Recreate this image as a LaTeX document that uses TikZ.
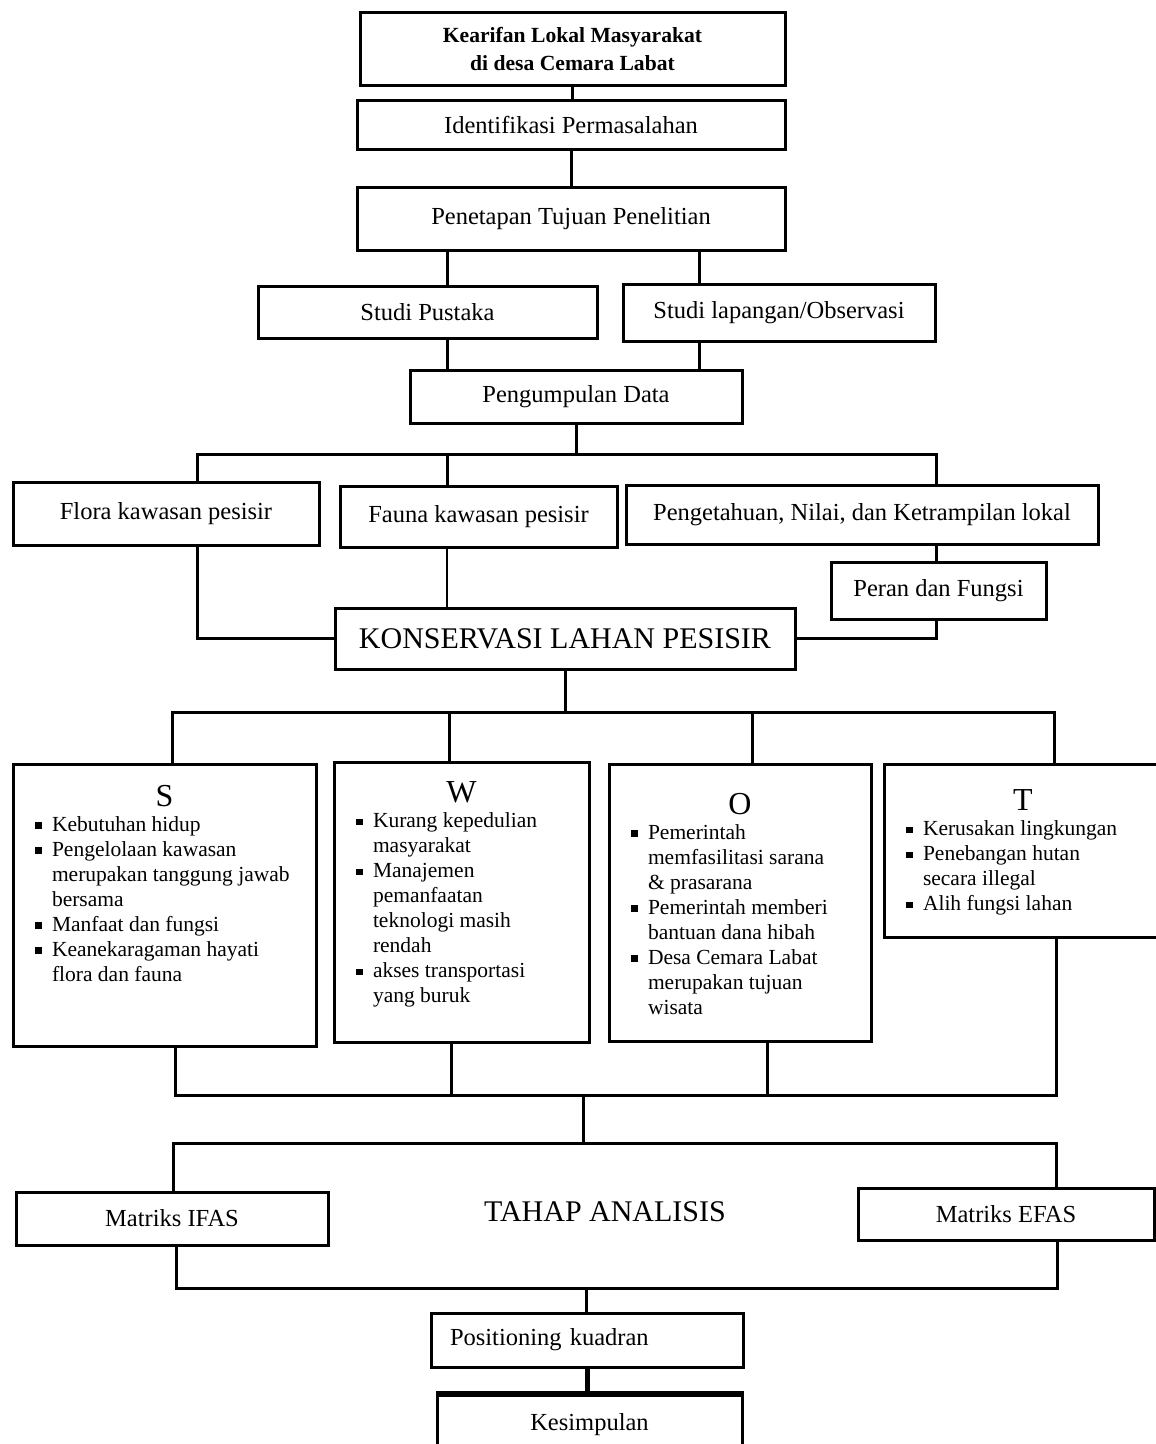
\documentclass[tikz,border=0pt]{standalone}
\usepackage{fontspec}
\setmainfont{Liberation Serif}
\newcommand{\swotitem}[1]{\par\hangindent=17pt\hangafter=1\noindent
  \makebox[17pt][l]{\rule[2.5pt]{6.5pt}{6.5pt}}{\let\\\newline#1}\par}
\newcommand{\swotbox}[5]{\parbox[c][#2pt][t]{\dimexpr#1pt-44pt\relax}{%
  \raggedright\fontsize{21.5}{25}\selectfont
  {\centering\fontsize{32}{32}\selectfont\rule{0pt}{#3pt}#4\par}#5}}
\begin{document}
\begin{tikzpicture}
[x=1pt,y=-1pt,
  boxdecorate/.style={shape=rectangle,draw,line width=3pt,inner sep=0pt,
    font=\fontsize{24.5}{28}\selectfont},%
  swotdecorate/.style={shape=rectangle,draw,line width=3pt,
    inner xsep=22pt,inner ysep=0pt},%
  linedecorate/.style={-,line width=3pt,line cap=rect}]
\useasboundingbox (0,0) rectangle (1156,1444);
%% boxes
\node[boxdecorate,minimum width=425pt,minimum height=73pt,align=center,
  font=\fontsize{21.6}{28}\selectfont\bfseries] (kearifan) at (572.5,48.5)
  {Kearifan Lokal Masyarakat\\di desa Cemara Labat};
\foreach \nodename/\x/\y/\w/\h/\nodetext in {
  identifikasi/571/124.5/428/49/{Identifikasi Permasalahan},
  penetapan/571/218.5/428/63/{Penetapan Tujuan Penelitian},
  studipustaka/427.5/312/339/52/{Studi Pustaka},
  studilapangan/779/312.5/312/57/{Studi lapangan/Observasi},
  pengumpulan/576/396.5/332/53/{Pengumpulan Data},
  flora/166/513.5/306/63/{Flora kawasan pesisir},
  fauna/478.5/516.5/277/61/{Fauna kawasan pesisir},
  pengetahuan/862/514.5/472/59/{Pengetahuan, Nilai, dan Ketrampilan lokal},
  peran/938.5/590.5/215/57/{Peran dan Fungsi},
  ifas/172/1218.5/312/53/{Matriks IFAS},
  efas/1006/1214/296/52/{Matriks EFAS},
  kesimpulan/589.5/1425/305/60/{Kesimpulan}} {
  \node[boxdecorate,minimum width=\w pt,minimum height=\h pt] (\nodename)
    at (\x,\y) {\nodetext};
}
\node[boxdecorate,minimum width=460pt,minimum height=61pt,
  font=\fontsize{30}{36}\selectfont] (konservasi) at (565,638.5)
  {KONSERVASI LAHAN PESISIR};
\node[font=\fontsize{30}{36}\selectfont] (tahap) at (605,1212) {TAHAP ANALISIS};
\node[boxdecorate,minimum width=312pt,minimum height=54pt,text width=274pt,
  align=left] (positioning) at (587,1340) {Positioning kuadran};
%% swot boxes
\node[swotdecorate] (s) at (164.5,905) {\swotbox{303}{282}{42}{S}{%
  \swotitem{Kebutuhan hidup}
  \swotitem{Pengelolaan kawasan\\merupakan tanggung jawab\\bersama}
  \swotitem{Manfaat dan fungsi}
  \swotitem{Keanekaragaman hayati\\flora dan fauna}}};
\node[swotdecorate] (w) at (461.5,902) {\swotbox{255}{280}{40.5}{W}{%
  \swotitem{Kurang kepedulian\\masyarakat}
  \swotitem{Manajemen\\pemanfaatan\\teknologi masih\\rendah}
  \swotitem{akses transportasi\\yang buruk}}};
\node[swotdecorate] (o) at (740,902.5) {\swotbox{262}{277}{50}{O}{%
  \swotitem{Pemerintah\\memfasilitasi sarana\\\& prasarana}
  \swotitem{Pemerintah memberi\\bantuan dana hibah}
  \swotitem{Desa Cemara Labat\\merupakan tujuan\\wisata}}};
\node[swotdecorate] (t) at (1023,850.5) {\swotbox{278}{173}{46.5}{T}{%
  \swotitem{Kerusakan lingkungan}
  \swotitem{Penebangan hutan\\secara illegal}
  \swotitem{Alih fungsi lahan}}};
%% junctions
\coordinate (xl) at (447,0);
\coordinate (xr) at (699,0);
\coordinate (a1) at (197,454);
\coordinate (a3) at (576,454);
\coordinate (a4) at (936,454);
\coordinate (bs) at (172,712);
\coordinate (bw) at (449,712);
\coordinate (bo) at (752,712);
\coordinate (bt) at (1054,712);
\coordinate (cs) at (175,1095);
\coordinate (cw) at (451,1095);
\coordinate (co) at (767,1095);
\coordinate (ct) at (1056,1095);
\coordinate (dl) at (173,1143);
\coordinate (dm) at (583,1143);
\coordinate (dr) at (1056,1143);
\coordinate (el) at (176,1288);
\coordinate (em) at (586,1288);
\coordinate (er) at (1057,1288);
%% connectors
\draw[linedecorate] (kearifan.south) -- (kearifan.south |- identifikasi.north);
\draw[linedecorate] (identifikasi.south) -- (identifikasi.south |- penetapan.north);
\foreach \railname/\studiname in {xl/studipustaka, xr/studilapangan} {
  \draw[linedecorate] (penetapan.south -| \railname) -- (\studiname.north -| \railname);
  \draw[linedecorate] (\studiname.south -| \railname) -- (pengumpulan.north -| \railname);
}
\draw[linedecorate] (pengumpulan.south) -- (a3);
\draw[linedecorate] (a1) -- (a4);
\draw[linedecorate] (a1) -- (flora.north -| a1);
\draw[linedecorate] (xl |- a1) -- (fauna.north -| xl);
\draw[linedecorate] (a4) -- (pengetahuan.north -| a4);
\draw[linedecorate] (pengetahuan.south -| a4) -- (peran.north -| a4);
\draw[linedecorate] (flora.south -| a1) |- (konservasi.west);
\draw[linedecorate,line width=1.5pt] (fauna.south -| xl) -- (konservasi.north -| xl);
\draw[linedecorate] (peran.south -| a4) |- (konservasi.east);
\draw[linedecorate] (konservasi.south) -- (konservasi.south |- bs);
\draw[linedecorate] (bs) -- (bt);
\draw[linedecorate] (cs) -- (ct);
\foreach \swotname in {s,w,o,t} {
  \draw[linedecorate] (b\swotname) -- (\swotname.north -| b\swotname);
  \draw[linedecorate] (\swotname.south -| c\swotname) -- (c\swotname);
}
\draw[linedecorate] (dm |- cs) -- (dm);
\draw[linedecorate] (dl) -- (dr);
\draw[linedecorate] (dl) -- (ifas.north -| dl);
\draw[linedecorate] (dr) -- (efas.north -| dr);
\draw[linedecorate] (ifas.south -| el) -- (el) -- (er) -- (efas.south -| er);
\draw[linedecorate] (em) -- (positioning.north -| em);
\draw[linedecorate,line width=5pt] (positioning.south) -- (positioning.south |- kesimpulan.north);
\draw[line width=5pt] (kesimpulan.north west) -- (kesimpulan.north east);
\end{tikzpicture}
\end{document}
